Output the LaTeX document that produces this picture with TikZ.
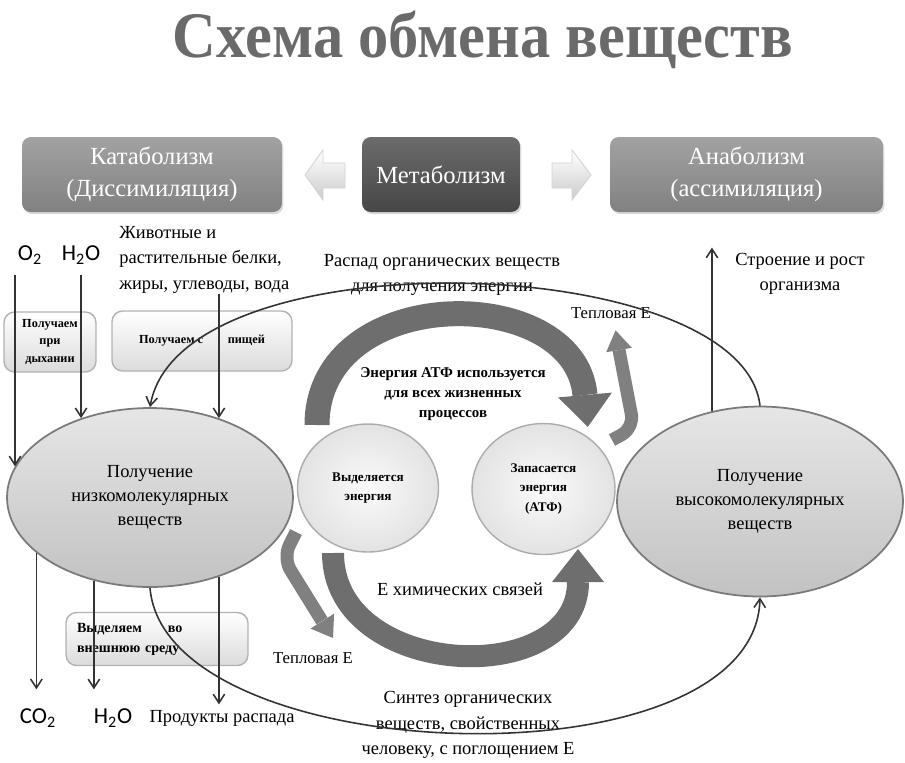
\documentclass[tikz,border=0pt]{standalone}
\usepackage{fontspec}
\setmainfont{Liberation Serif}
\newfontfamily\calfont{Carlito}
\usetikzlibrary{shapes.geometric,arrows.meta,shadows}
\definecolor{bandcol}{HTML}{6E6E6E}
\definecolor{jbandcol}{HTML}{808080}
\definecolor{linec}{HTML}{333333}
\definecolor{cattop}{HTML}{A2A2A2}
\definecolor{catbot}{HTML}{818181}
\definecolor{metatop}{HTML}{6C6C6C}
\definecolor{metabot}{HTML}{464646}
\definecolor{elltop}{HTML}{E6E6E6}
\definecolor{ellbot}{HTML}{C2C2C2}
\definecolor{ellline}{HTML}{7A7A7A}
\definecolor{titlec}{HTML}{6A6A6A}
\begin{document}
\begin{tikzpicture}[x=0.02cm,y=-0.02cm,
  font=\fontsize{10.5pt}{14.5pt}\selectfont,
  topbox/.style={rounded corners=5pt, minimum height=1.5cm, text=white, align=center,
    font=\fontsize{14pt}{18.5pt}\selectfont,
    drop shadow={opacity=0.3,shadow xshift=0.8pt,shadow yshift=-1.2pt}},
  softbox/.style={rounded corners=6pt, draw=gray!60, line width=0.8pt,
    top color=white, bottom color=gray!28, align=center, inner sep=1pt,
    font=\bfseries\fontsize{7pt}{10pt}\selectfont},
  bigell/.style={ellipse, draw=ellline, line width=1pt, top color=elltop,
    bottom color=ellbot, align=center, inner sep=0pt,
    font=\fontsize{10.5pt}{13.5pt}\selectfont},
  smallcirc/.style={ellipse, draw=gray!65, line width=0.8pt, inner color=gray!4,
    outer color=gray!22, align=center, inner sep=0pt,
    font=\bfseries\fontsize{7.5pt}{11pt}\selectfont},
  blockarrow/.style={top color=white, bottom color=gray!40, draw=gray!35, line width=0.5pt},
  conn/.style={draw=linec, line width=0.9pt},
  connarrow/.style={conn, -{Straight Barb[length=5pt,width=6.5pt]}},
  lbl/.style={align=center, inner sep=0pt},
  chem/.style={font=\calfont\fontsize{13pt}{15pt}\selectfont, inner ysep=6pt, inner xsep=0pt},
  bigband/.style={draw=bandcol, line cap=butt},
  smallband/.style={draw=jbandcol, line width=0.26cm, rounded corners=8pt, line cap=butt},
]
\useasboundingbox (0,0) rectangle (905,762);

% title
\node[font=\bfseries\fontsize{37pt}{40pt}\selectfont, text=titlec] (title) at (483,40) {\scalebox{0.93}[1]{Схема обмена веществ}};

% top row
\node[topbox, minimum width=5.2cm, top color=cattop, bottom color=catbot] (cat) at (152,174.5) {Катаболизм\\(Диссимиляция)};
\node[topbox, minimum width=3.16cm, top color=metatop, bottom color=metabot] (meta) at (441,174.5) {Метаболизм};
\node[topbox, minimum width=5.46cm, top color=cattop, bottom color=catbot] (ana) at (746.5,174.5) {Анаболизм\\(ассимиляция)};
\path[blockarrow] (345,163) -- (323,163) -- (323,150) -- (305,175) -- (323,200) -- (323,188) -- (345,188) -- cycle;
\path[blockarrow] (552,163) -- (572,163) -- (572,150) -- (591,175) -- (572,200) -- (572,188) -- (552,188) -- cycle;

% inputs
\node[chem] (o2) at (30,255) {O\textsubscript{2}};
\node[chem] (h2oin) at (81,255) {H\textsubscript{2}O};
\node[lbl, align=left, anchor=north west] (food) at (119,226) {Животные и\\растительные белки,\\жиры, углеводы, вода};
\node[softbox, minimum width=1.84cm, minimum height=1.2cm] (breath) at (50,342) {Получаем\\при\\дыхании};
\node[softbox, minimum width=3.6cm, minimum height=1.2cm] (meal) at (202,341) {Получаем с\hspace{14pt}пищей};

% main ellipses
\node[bigell, minimum width=5.72cm, minimum height=3.58cm] (low) at (150,497.5) {Получение\\низкомолекулярных\\веществ};
\node[bigell, minimum width=5.72cm, minimum height=3.8cm] (high) at (760,501.5) {Получение\\высокомолекулярных\\веществ};

% energy circles
\node[smallcirc, minimum width=2.82cm, minimum height=2.56cm] (rel) at (368,488) {Выделяется\\энергия};
\node[smallcirc, minimum width=2.86cm, minimum height=2.62cm] (store) at (543.5,489) {Запасается\\энергия\\(АТФ)};

% labels
\node[lbl] (decay) at (442,275) {Распад органических веществ\\для получения энергии};
\node[lbl, font=\bfseries\fontsize{8.5pt}{11.5pt}\selectfont] (atp) at (453,394) {Энергия АТФ используется\\для всех жизненных\\процессов};
\node[lbl, font=\fontsize{9.5pt}{12pt}\selectfont] (heatup) at (611,313) {Тепловая Е};
\node[lbl, font=\fontsize{9.5pt}{12pt}\selectfont] (heatdown) at (313,658) {Тепловая Е};
\node[lbl] (chembond) at (460,589) {Е химических связей};
\node[lbl] (synth) at (468,725) {Синтез органических\\веществ, свойственных\\человеку, с поглощением Е};
\node[lbl, inner ysep=3pt] (grow) at (800,274) {Строение и рост\\организма};

% outputs
\node[softbox, minimum width=3.64cm, minimum height=1.06cm, align=left, text width=3.2cm,
  font=\bfseries\fontsize{8pt}{11.5pt}\selectfont] (outbox) at (157,639) {Выделяем\hspace{12pt} во\\внешнюю среду};
\node[chem, inner ysep=11pt] (co2) at (38,718) {CO\textsubscript{2}};
\node[chem, inner ysep=11pt] (h2oout) at (113,718) {H\textsubscript{2}O};
\node[lbl, inner ysep=3pt] (prod) at (222,718) {Продукты распада};

% big energy bands
\draw[bigband, line width=0.5cm] (317,425) .. controls (317,282) and (575,282) .. (585,395);
\fill[bandcol] (611.9,392.6) -- (587.8,426.9) -- (558.1,397.4) -- cycle;
\draw[bigband, line width=0.44cm] (333,553) .. controls (333,680) and (578,690) .. (578,582);
\fill[bandcol] (552,582) -- (578,549) -- (604,582) -- cycle;

% heat arrows
\draw[smallband] (296,532) -- (283,558) -- (322,621);
\fill[jbandcol] (334.1,613.6) -- (333,638) -- (310.5,628.6) -- cycle;
\draw[smallband] (612,440) -- (634,428) -- (619,350);
\fill[jbandcol] (631.8,347.8) -- (615.6,330.3) -- (606.2,352.2) -- cycle;

% connectors
\draw[connarrow] (low.167 |- o2.south) -- (low.167);
\draw[connarrow] (low.131 |- h2oin.south) -- (low.131);
\draw[connarrow] (low.49 |- food.south) -- (low.49);
\draw[connarrow] (low.206) -- (low.206 |- co2.north);
\draw[connarrow] (low.236) -- (low.236 |- h2oout.north);
\draw[connarrow] (low.311) -- (low.311 |- prod.north);
\draw[connarrow] (high.118) -- (high.118 |- grow.north);
\draw[connarrow] (high.north) .. controls (742,250) and (180,235) .. (low.north);
\draw[connarrow] (low.south) .. controls (165,770) and (755,790) .. (high.south);
\end{tikzpicture}
\end{document}
